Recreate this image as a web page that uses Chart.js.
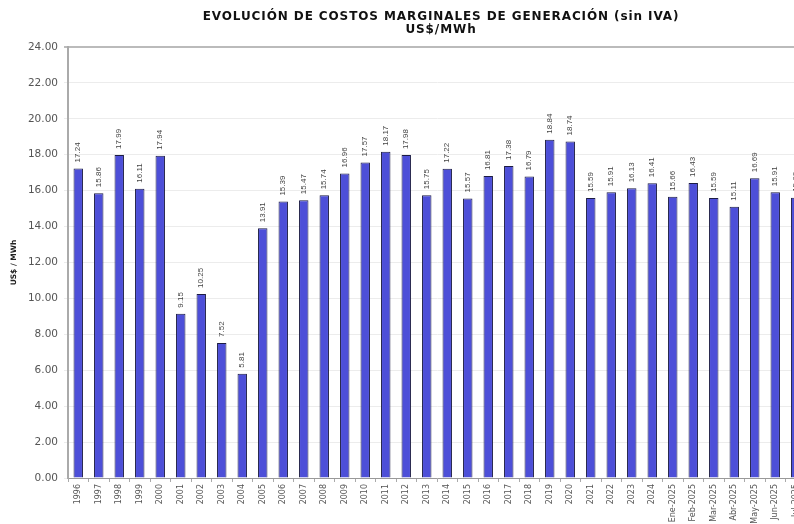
<!DOCTYPE html>
<html lang="es">
<head>
    <meta charset="UTF-8">
    <title>Evolución de costos marginales de generación</title>
    <style>
        html, body {
            margin: 0;
            padding: 0;
            overflow: hidden;
            background: #fff;
        }
        #wrap {
            width: 882px;
            height: 524px;
        }
    </style>
    <script src="https://cdn.jsdelivr.net/npm/chart.js"></script>
</head>
<body>
    <div id="wrap">
        <canvas id="costChart" width="882" height="524"></canvas>
    </div>

    <script>
        // Data
        const periods = ['1996', '1997', '1998', '1999', '2000', '2001', '2002', '2003', '2004', '2005',
            '2006', '2007', '2008', '2009', '2010', '2011', '2012', '2013', '2014', '2015',
            '2016', '2017', '2018', '2019', '2020', '2021', '2022', '2023', '2024',
            'Ene-2025', 'Feb-2025', 'Mar-2025', 'Abr-2025', 'May-2025', 'Jun-2025', 'Jul-2025'];
        const costs = [17.24, 15.86, 17.99, 16.11, 17.94, 9.15, 10.25, 7.52, 5.81, 13.91,
            15.39, 15.47, 15.74, 16.96, 17.57, 18.17, 17.98, 15.75, 17.22, 15.57,
            16.81, 17.38, 16.79, 18.84, 18.74, 15.59, 15.91, 16.13, 16.41,
            15.66, 16.43, 15.59, 15.11, 16.69, 15.91, 15.60];
        const yTicks = [0, 2, 4, 6, 8, 10, 12, 14, 16, 18, 20, 22, 24];
        const titleLines = ['EVOLUCIÓN DE COSTOS MARGINALES DE GENERACIÓN (sin IVA)', 'US$/MWh'];

        const SANS = '"DejaVu Sans", Verdana, sans-serif';
        const ARIAL = '"Liberation Sans", Arial, sans-serif';

        // title centred on the full (wider than window) canvas
        const chartTitle = {
            id: 'chartTitle',
            afterDraw(chart) {
                const ctx = chart.ctx;
                ctx.save();
                ctx.font = 'bold 12px ' + SANS;
                ctx.letterSpacing = '0.9px';
                ctx.fillStyle = '#111';
                ctx.textAlign = 'center';
                ctx.textBaseline = 'middle';
                ctx.fillText(titleLines[0], chart.width / 2, 17);
                ctx.fillText(titleLines[1], chart.width / 2, 30);
                ctx.restore();
            }
        };

        // value labels written vertically above each bar
        const barLabels = {
            id: 'barLabels',
            afterDatasetsDraw(chart) {
                const ctx = chart.ctx;
                const meta = chart.getDatasetMeta(0);
                ctx.save();
                ctx.font = '8px ' + ARIAL;
                ctx.fillStyle = '#444';
                ctx.textAlign = 'left';
                ctx.textBaseline = 'middle';
                meta.data.forEach((bar, i) => {
                    ctx.save();
                    ctx.translate(bar.x, bar.y - 6);
                    ctx.rotate(-Math.PI / 2);
                    ctx.fillText(costs[i].toFixed(2), 0, 0);
                    ctx.restore();
                });
                ctx.restore();
            }
        };

        const ctx = document.getElementById('costChart').getContext('2d');
        new Chart(ctx, {
            type: 'bar',
            data: {
                labels: periods,
                datasets: [{
                    data: costs,
                    backgroundColor: '#4d4fd8',
                    borderColor: '#1c1c44',
                    borderWidth: 1,
                    barPercentage: 0.46,
                    categoryPercentage: 1
                }]
            },
            options: {
                responsive: false,
                animation: false,
                layout: { padding: { left: 0, right: 76, top: 47, bottom: 0 } },
                plugins: {
                    legend: { display: false },
                    tooltip: { enabled: false },
                    title: { display: false }
                },
                scales: {
                    x: {
                        grid: {
                            display: true,
                            drawOnChartArea: false,
                            drawTicks: true,
                            tickLength: 4,
                            color: '#aaa'
                        },
                        border: { color: '#999', width: 1 },
                        ticks: {
                            autoSkip: false,
                            minRotation: 90,
                            maxRotation: 90,
                            padding: 2,
                            color: '#555',
                            font: { family: SANS, size: 8 }
                        },
                        afterFit(scale) { scale.height = 46; }
                    },
                    y: {
                        min: 0,
                        max: 24,
                        afterBuildTicks(scale) {
                            scale.ticks = yTicks.map(v => ({ value: v }));
                        },
                        grid: {
                            color: ctx => ctx.tick && ctx.tick.value === 24 ? '#bbb' : '#ececec',
                            lineWidth: ctx => ctx.tick && ctx.tick.value === 24 ? 2 : 1,
                            tickLength: 4
                        },
                        border: { color: '#aaa', width: 2 },
                        ticks: {
                            color: '#555',
                            padding: 6,
                            font: { family: SANS, size: 10.5 },
                            callback: v => Number(v).toFixed(2)
                        },
                        title: {
                            display: true,
                            text: 'US$ / MWh',
                            color: '#222',
                            font: { family: SANS, size: 7.5, weight: 'bold' },
                            padding: { top: 10, bottom: 0 }
                        },
                        afterFit(scale) { scale.width = 68; }
                    }
                }
            },
            plugins: [barLabels, chartTitle]
        });
    </script>
</body>
</html>
